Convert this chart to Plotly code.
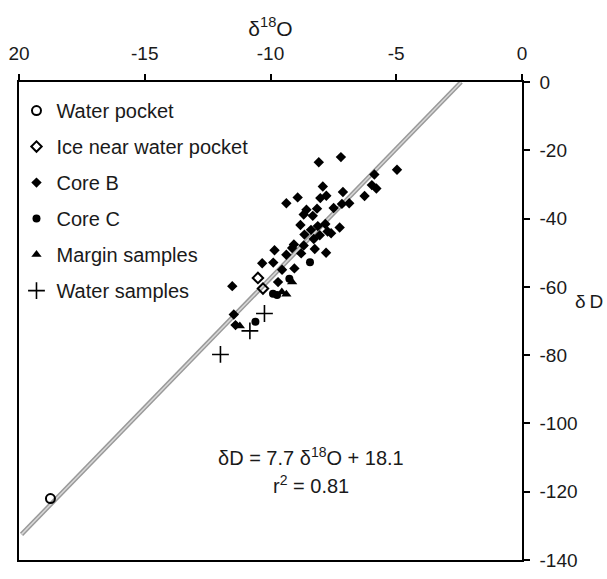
import plotly.graph_objects as go

# ---- data ----
water_pocket_x = [-18.75]
water_pocket_y = [-122.0]

ice_near_x = [-10.50, -10.30]
ice_near_y = [-57.4, -60.5]

core_b_x = [-8.08, -7.20, -4.97, -5.87, -5.97, -5.79, -6.26, -7.92, -7.12, -8.02,
            -7.78, -8.92, -9.37, -7.16, -6.87, -7.49, -8.15, -8.57, -8.68, -8.32,
            -7.82, -8.12, -8.39, -7.25, -8.65, -8.04, -7.73, -8.28, -9.07, -9.14,
            -8.68, -8.24, -7.79, -8.78, -9.37, -9.84, -9.89, -10.33, -9.54, -9.05,
            -11.52, -11.46, -11.39, -9.70, -8.81, -7.59]
core_b_y = [-23.5, -22.0, -25.7, -27.1, -30.2, -31.2, -33.4, -30.6, -32.2, -34.0,
            -33.3, -33.8, -35.5, -35.7, -35.5, -36.9, -37.1, -37.4, -38.8, -39.2,
            -41.6, -42.2, -43.3, -42.6, -44.7, -44.9, -43.8, -46.0, -47.6, -48.6,
            -47.9, -48.9, -50.0, -50.2, -50.6, -49.3, -52.9, -53.1, -55.0, -54.6,
            -59.8, -68.1, -71.2, -58.6, -41.9, -44.3]

core_c_x = [-8.43, -9.74, -9.90, -10.60, -9.25]
core_c_y = [-52.8, -62.4, -62.0, -70.2, -57.6]

margin_x = [-9.14, -9.37, -11.22, -9.55]
margin_y = [-58.6, -62.2, -71.5, -61.5]

water_samples_x = [-10.24, -10.82, -11.99]
water_samples_y = [-67.8, -72.9, -79.8]

# regression line end points (as drawn)
reg_x = [-19.9, -2.42]
reg_y = [-132.5, 0.0]

x_tickvals = [-20, -15, -10, -5, 0]
x_ticktext = ["20", "-15", "-10", "-5", "0"]
y_tickvals = [0, -20, -40, -60, -80, -100, -120, -140]
y_ticktext = ["0", "-20", "-40", "-60", "-80", "-100", "-120", "-140"]

FONT = "Liberation Sans, Arial, Helvetica, sans-serif"

fig = go.Figure()

# regression line: gray band with lighter centre
fig.add_trace(go.Scatter(x=reg_x, y=reg_y, mode="lines", showlegend=False,
                         line=dict(color="#9a9a9a", width=4.5), hoverinfo="skip"))
fig.add_trace(go.Scatter(x=reg_x, y=reg_y, mode="lines", showlegend=False,
                         line=dict(color="#d8d8d8", width=1.5), hoverinfo="skip"))

fig.add_trace(go.Scatter(x=water_pocket_x, y=water_pocket_y, mode="markers",
                         name="Water pocket", legendgroup="a",
                         marker=dict(symbol="circle-open", size=9, color="black",
                                     line=dict(width=2, color="black"))))
fig.add_trace(go.Scatter(x=ice_near_x, y=ice_near_y, mode="markers",
                         name="Ice near water pocket", legendgroup="b",
                         marker=dict(symbol="diamond-open", size=8, color="black",
                                     line=dict(width=2, color="black"))))
fig.add_trace(go.Scatter(x=core_b_x, y=core_b_y, mode="markers",
                         name="Core B", legendgroup="c",
                         marker=dict(symbol="diamond", size=8, color="black",
                                     line=dict(width=0))))
fig.add_trace(go.Scatter(x=core_c_x, y=core_c_y, mode="markers",
                         name="Core C", legendgroup="d",
                         marker=dict(symbol="circle", size=8, color="black",
                                     line=dict(width=0))))
fig.add_trace(go.Scatter(x=margin_x, y=margin_y, mode="markers",
                         name="Margin samples", legendgroup="e",
                         marker=dict(symbol="triangle-up", size=9, color="black",
                                     line=dict(width=0))))
fig.add_trace(go.Scatter(x=water_samples_x, y=water_samples_y, mode="markers",
                         name="Water samples", legendgroup="f",
                         marker=dict(symbol="cross-thin-open", size=12, color="black",
                                     line=dict(width=1.6, color="black"))))

fig.update_layout(
    width=607, height=579,
    margin=dict(l=18, r=85, t=82, b=8),
    paper_bgcolor="white", plot_bgcolor="white",
    font=dict(family=FONT, size=19, color="#1a1a1a"),
    showlegend=True,
    legend=dict(x=-0.005, y=0.981, xanchor="left", yanchor="top",
                bgcolor="rgba(0,0,0,0)", font=dict(size=20),
                tracegroupgap=7, itemwidth=30),
    xaxis=dict(side="top", range=[-20, 0], tickvals=x_tickvals, ticktext=x_ticktext,
               ticks="outside", ticklen=6, tickwidth=1.5, tickcolor="black",
               showline=True, linecolor="black", linewidth=1.5, mirror=True,
               showgrid=False, zeroline=False, ticklabelstandoff=7,
               ticklabeloverflow="allow",
               title=dict(text="δ<sup>18</sup>O", font=dict(size=21), standoff=0)),
    yaxis=dict(side="right", range=[-140, 0], tickvals=y_tickvals, ticktext=y_ticktext,
               ticks="outside", ticklen=6, tickwidth=1.5, tickcolor="black",
               showline=True, linecolor="black", linewidth=1.5, mirror=True,
               showgrid=False, zeroline=False, ticklabelstandoff=6,
               ticklabeloverflow="allow"),
    annotations=[
        dict(text="δ\u2009D", xref="paper", yref="paper", x=(605 - 18) / 504, y=0.54,
             xanchor="right", yanchor="middle", showarrow=False, font=dict(size=19)),
        dict(text="δD = 7.7 δ<sup>18</sup>O + 18.1", xref="x", yref="y",
             x=-8.4, y=-109.8, xanchor="center", yanchor="middle",
             showarrow=False, font=dict(size=20)),
        dict(text="r<sup>2</sup> = 0.81", xref="x", yref="y",
             x=-8.4, y=-117.9, xanchor="center", yanchor="middle",
             showarrow=False, font=dict(size=20)),
    ],
)

fig.write_html("out.html", config={"displayModeBar": False},
               post_script="document.body.style.margin='0';")
